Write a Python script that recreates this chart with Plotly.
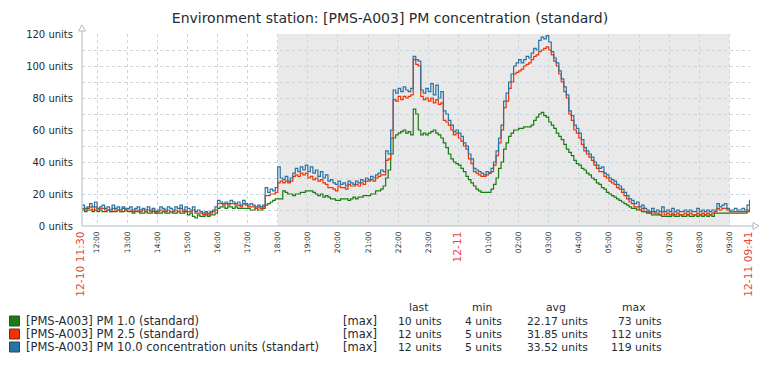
import pandas as pd
import plotly.graph_objects as go

# ---------------- data (5-minute samples, 12-10 11:30 .. 12-11 09:41) ----------------
# each row = one hour, from hh:30 to (hh+1):25
start_time = "2019-12-10 11:30"
end_time = "2019-12-11 09:41"

pm10 = [13, 11, 12, 14, 12, 15, 11, 12, 13, 11, 12, 10,
        13, 11, 12, 10, 12, 11, 11, 12, 10, 11, 12, 10,
        11, 10, 12, 10, 11, 9, 10, 12, 11, 10, 12, 11,
        10, 12, 11, 13, 10, 12, 11, 10, 12, 9, 10, 9,
        8, 9, 8, 9, 10, 12, 16, 15, 14, 15, 14, 16,
        15, 14, 15, 13, 16, 14, 13, 14, 13, 12, 13, 12,
        13, 24, 21, 23, 22, 24, 37, 30, 29, 31, 28, 30,
        33, 36, 34, 37, 35, 38, 34, 37, 33, 35, 31, 34,
        30, 32, 28, 29, 27, 26, 28, 26, 27, 25, 28, 27,
        26, 28, 27, 29, 28, 30, 29, 31, 30, 32, 33, 35,
        34, 47, 45, 60, 85, 83, 86, 84, 87, 85, 84, 86,
        106, 104, 103, 85, 83, 86, 84, 89, 82, 88, 80, 84,
        72, 70, 66, 63, 59, 60, 58, 56, 52, 50, 45, 42,
        36, 35, 34, 33, 32, 34, 33, 36, 40, 47, 55, 63,
        78, 83, 90, 95, 100, 102, 104, 102, 104, 106, 105, 108,
        111, 110, 116, 118, 117, 119, 115, 109, 105, 102, 97, 92,
        87, 82, 72, 69, 63, 61, 58, 54, 49, 47, 45, 43,
        40, 38, 36, 37, 33, 32, 30, 29, 28, 26, 25, 23,
        21, 19, 17, 16, 14, 15, 12, 13, 11, 10, 9, 11,
        9, 10, 9, 12, 9, 10, 9, 11, 9, 10, 9, 9,
        10, 9, 10, 9, 9, 11, 9, 10, 9, 10, 9, 10,
        10, 14, 12, 13, 14, 11, 10, 10, 11, 10, 10, 11,
        10, 13, 16, 12]

pm25 = [11, 10, 11, 12, 10, 12, 10, 11, 11, 10, 10, 9,
        11, 10, 10, 9, 11, 10, 10, 10, 9, 10, 10, 9,
        10, 9, 10, 9, 10, 8, 9, 10, 10, 9, 10, 9,
        9, 10, 9, 11, 9, 10, 9, 9, 10, 8, 8, 8,
        7, 8, 7, 8, 9, 10, 14, 14, 13, 14, 13, 14,
        14, 13, 13, 12, 14, 13, 12, 12, 12, 11, 12, 11,
        12, 19, 19, 20, 20, 21, 27, 28, 27, 28, 27, 28,
        31, 32, 31, 33, 32, 33, 30, 31, 29, 30, 28, 29,
        27, 26, 24, 24, 23, 22, 25, 24, 24, 23, 26, 25,
        25, 26, 25, 27, 26, 28, 28, 29, 28, 30, 31, 32,
        32, 41, 42, 55, 79, 78, 81, 79, 81, 80, 81, 82,
        104, 101, 100, 81, 79, 80, 78, 80, 77, 79, 76, 77,
        66, 65, 63, 60, 57, 58, 55, 53, 50, 48, 42, 39,
        34, 33, 32, 31, 31, 32, 33, 34, 38, 44, 52, 60,
        74, 78, 86, 90, 95, 96, 97, 98, 100, 101, 102, 104,
        106, 107, 109, 110, 111, 112, 110, 107, 103, 100, 95, 90,
        84, 80, 70, 66, 60, 58, 55, 51, 47, 45, 43, 41,
        38, 36, 34, 34, 31, 30, 28, 27, 26, 24, 23, 21,
        19, 17, 15, 14, 12, 12, 10, 11, 9, 9, 8, 9,
        8, 8, 7, 9, 7, 8, 7, 8, 7, 8, 7, 7,
        8, 7, 8, 7, 7, 8, 7, 8, 7, 8, 7, 8,
        9, 11, 10, 11, 11, 10, 9, 9, 9, 9, 9, 9,
        9, 10, 12, 12]

pm1 = [10, 9, 10, 10, 9, 10, 9, 10, 9, 9, 10, 9,
       9, 9, 10, 9, 9, 10, 9, 9, 8, 9, 9, 8,
       8, 9, 8, 8, 9, 8, 8, 8, 9, 8, 8, 9,
       8, 8, 9, 8, 8, 9, 7, 8, 6, 5, 7, 6,
       6, 7, 6, 7, 7, 8, 11, 12, 12, 11, 12, 12,
       11, 12, 11, 11, 11, 11, 11, 10, 10, 11, 10, 10,
       11, 13, 14, 15, 16, 17, 17, 17, 22, 21, 20, 20,
       19, 20, 20, 21, 21, 22, 22, 22, 21, 20, 19, 20,
       18, 19, 18, 17, 17, 16, 16, 17, 17, 17, 16, 17,
       18, 17, 18, 18, 19, 19, 19, 20, 20, 22, 22, 23,
       25, 30, 35, 45, 55, 57, 58, 59, 60, 58, 59, 57,
       73, 70, 60, 57, 58, 57, 58, 59, 60, 58, 57, 55,
       52, 49, 45, 42, 40, 39, 38, 36, 34, 31, 29, 27,
       25, 23, 22, 21, 21, 21, 21, 23, 26, 30, 36, 40,
       48, 52, 56, 58, 60, 60, 61, 61, 62, 62, 62, 63,
       66, 68, 70, 71, 69, 68, 65, 63, 61, 58, 56, 54,
       51, 48, 46, 44, 41, 39, 38, 36, 35, 33, 32, 30,
       29, 27, 26, 24, 23, 21, 20, 19, 18, 17, 16, 15,
       14, 13, 12, 11, 11, 10, 10, 9, 9, 8, 8, 7,
       7, 7, 7, 6, 6, 6, 6, 7, 6, 6, 7, 6,
       6, 7, 6, 6, 7, 6, 7, 6, 7, 6, 7, 6,
       8, 8, 8, 8, 8, 8, 8, 8, 8, 8, 8, 8,
       8, 9, 10, 10]

series_names = ["[PMS-A003] PM 1.0 (standard)",
                "[PMS-A003] PM 2.5 (standard)",
                "[PMS-A003] PM 10.0 concentration units (standart)"]
series_colors = ["#1A7C11", "#F63100", "#2774A4"]
stat_last = ["10 units", "12 units", "12 units"]
stat_min = ["4 units", "5 units", "5 units"]
stat_avg = ["22.17 units", "31.85 units", "33.52 units"]
stat_max = ["73 units", "112 units", "119 units"]

y_ticks = [0, 20, 40, 60, 80, 100, 120]
y_labels = [f"{v} units" for v in y_ticks]

night_start = "2019-12-10 18:00"
night_end = "2019-12-11 09:00"

title = "Environment station: [PMS-A003] PM concentration (standard)"

# ---------------- build ----------------
times = list(pd.date_range(start_time, periods=267, freq="5min")) + [pd.Timestamp(end_time)]
assert len(pm1) == len(pm25) == len(pm10) == len(times), (len(pm1), len(pm25), len(pm10), len(times))

W, H = 780, 365
L, R, T, B = 82, 750, 34, 226
TEXT = "#1F2C33"
RED = "#E8463C"
FONT = "DejaVu Sans"


def px(x):
    return (x - L) / (R - L)


def py(y):
    return (B - y) / (B - T)


fig = go.Figure()
for vals, name, col in zip([pm1, pm25, pm10], series_names, series_colors):
    fig.add_trace(go.Scatter(x=times, y=vals, mode="lines", name=name,
                             line=dict(color=col, width=1.2, shape="hv"),
                             showlegend=False))

# x ticks
hour_ticks = list(pd.date_range("2019-12-10 12:00", "2019-12-11 09:00", freq="1h"))
tickvals = [pd.Timestamp(start_time)] + hour_ticks + [pd.Timestamp(end_time)]
ticktext = []
for tv in tickvals:
    if tv == pd.Timestamp(start_time) or tv == pd.Timestamp(end_time):
        ticktext.append(f'<span style="color:{RED};font-size:10.7px">{tv.strftime("%m-%d %H:%M")}</span>')
    elif tv.hour == 0 and tv.minute == 0:
        ticktext.append(f'<span style="color:{RED};font-size:10.7px">{tv.strftime("%m-%d")}</span>')
    else:
        ticktext.append(tv.strftime("%H:%M"))

grid_col = "#CCD5D9"
fig.update_xaxes(type="date", range=[pd.Timestamp(start_time), pd.Timestamp(end_time)],
                 tickvals=tickvals, ticktext=ticktext, tickangle=-90,
                 tickfont=dict(family=FONT, size=7.5, color=TEXT),
                 showgrid=True, gridcolor=grid_col, griddash="dot", gridwidth=1,
                 showline=False, zeroline=False, ticks="", ticklabelstandoff=3)
fig.update_yaxes(range=[0, 120], tickvals=y_ticks, ticktext=y_labels,
                 tickfont=dict(family=FONT, size=10, color=TEXT),
                 showgrid=True, gridcolor=grid_col, griddash="dot", gridwidth=1,
                 minor=dict(dtick=10, tick0=0, showgrid=True, gridcolor=grid_col, griddash="dot"),
                 showline=False, zeroline=False, ticks="", ticklabelstandoff=8)

shapes = []
# night shading
shapes.append(dict(type="rect", xref="x", yref="paper", x0=night_start, x1=night_end,
                   y0=0, y1=1, fillcolor="#E9E9E9", line=dict(width=0), layer="below"))
axis_col = "#ACBBC2"
# axis lines
shapes.append(dict(type="line", xref="paper", yref="paper", x0=px(82), x1=px(82),
                   y0=py(226), y1=py(31), line=dict(color=axis_col, width=1)))
shapes.append(dict(type="line", xref="paper", yref="paper", x0=px(82), x1=px(753),
                   y0=py(226), y1=py(226), line=dict(color=axis_col, width=1)))
# arrows
shapes.append(dict(type="path", xref="paper", yref="paper",
                   path=f"M {px(78.5)} {py(31)} L {px(82)} {py(25)} L {px(85.5)} {py(31)} Z",
                   line=dict(color=axis_col, width=1), fillcolor="white"))
shapes.append(dict(type="path", xref="paper", yref="paper",
                   path=f"M {px(753)} {py(222.5)} L {px(759)} {py(226)} L {px(753)} {py(229.5)} Z",
                   line=dict(color=axis_col, width=1), fillcolor="white"))

annotations = []
row_y = [321, 334, 347]
for i in range(3):
    yc = row_y[i]
    shapes.append(dict(type="rect", xref="paper", yref="paper",
                       x0=px(9.5), x1=px(19.5), y0=py(yc - 5), y1=py(yc + 5),
                       fillcolor=series_colors[i], line=dict(color="#404040", width=1)))
    annotations.append(dict(x=px(25), y=py(yc), text=series_names[i], xanchor="left", yanchor="middle", size=11.5))
    annotations.append(dict(x=px(342), y=py(yc), text="[max]", xanchor="left", yanchor="middle", size=11.5))
    annotations.append(dict(x=px(443), y=py(yc), text=stat_last[i], xanchor="right", yanchor="middle", size=10.8))
    annotations.append(dict(x=px(503), y=py(yc), text=stat_min[i], xanchor="right", yanchor="middle", size=10.8))
    annotations.append(dict(x=px(589), y=py(yc), text=stat_avg[i], xanchor="right", yanchor="middle", size=10.8))
    annotations.append(dict(x=px(663), y=py(yc), text=stat_max[i], xanchor="right", yanchor="middle", size=10.8))
for txt, xc in zip(["last", "min", "avg", "max"], [418, 482, 556, 634]):
    annotations.append(dict(x=px(xc), y=py(307), text=txt, xanchor="center", yanchor="middle", size=10.8))
for a in annotations:
    sz = a.pop("size")
    a.update(xref="paper", yref="paper", showarrow=False, borderpad=0,
             font=dict(family=FONT, size=sz, color=TEXT))

fig.update_layout(
    width=W, height=H,
    margin=dict(l=L, r=W - R, t=T, b=H - B),
    paper_bgcolor="white", plot_bgcolor="white",
    title=dict(text=title, x=0.5, xanchor="center", y=1 - 18 / H, yanchor="middle",
               font=dict(family=FONT, size=14, color=TEXT)),
    shapes=shapes, annotations=annotations,
    showlegend=False,
)

fig.write_html("out.html", config={"displayModeBar": False},
               post_script="document.body.style.margin='0px';document.body.style.padding='0px';")
